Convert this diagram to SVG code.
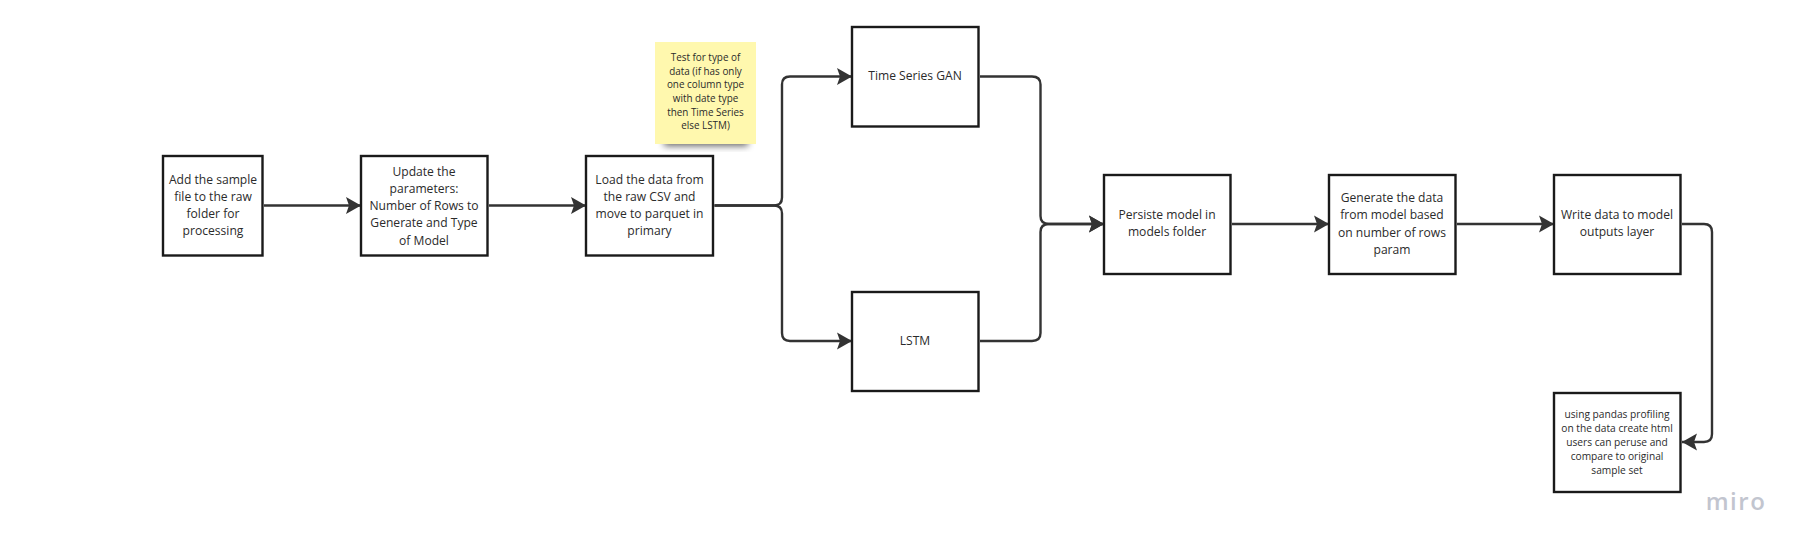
<svg xmlns="http://www.w3.org/2000/svg" width="1807" height="553" viewBox="0 0 1807 553">
<style>
.box{fill:#fff;stroke:#1a1a1a;stroke-width:2.4}
.c{fill:none;stroke:#333;stroke-width:2.4;stroke-linejoin:round}
text{font-family:"Open Sans","Noto Sans","Liberation Sans",sans-serif;text-anchor:middle;fill:#2b2b2b}
.t{font-size:12.1px}
.n{font-size:9.9px}
.s{font-size:10.2px}
</style>
<defs>
<marker id="a" markerUnits="userSpaceOnUse" markerWidth="18" markerHeight="20" refX="15.500" refY="9.500" orient="auto">
<path d="M0.500 1L15.500 9.500L0.500 18L3.500 9.500Z" fill="#333"/>
</marker>
<filter id="blur" x="-20%" y="-50%" width="140%" height="200%"><feGaussianBlur stdDeviation="3.500"/></filter>
</defs>
<rect width="1807" height="553" fill="#fff"/>
<g id="connectors">
<path class="c" marker-end="url(#a)" d="M264 205.500H361"/>
<path class="c" marker-end="url(#a)" d="M489 205.500H586"/>
<path class="c" marker-end="url(#a)" d="M714.500 205.500H774Q782 205.500 782 197.500V84.500Q782 76.500 790 76.500H852"/>
<path class="c" marker-end="url(#a)" d="M714.500 205.500H774Q782 205.500 782 213.500V333Q782 341 790 341H852"/>
<path class="c" marker-end="url(#a)" d="M980 76.500H1032Q1040.500 76.500 1040.500 84.500V216Q1040.500 224 1049 224H1104"/>
<path class="c" marker-end="url(#a)" d="M980 341H1032Q1040.500 341 1040.500 333V232Q1040.500 224 1049 224H1104"/>
<path class="c" marker-end="url(#a)" d="M1232 224H1329"/>
<path class="c" marker-end="url(#a)" d="M1457 224H1554"/>
<path class="c" marker-end="url(#a)" d="M1682 224H1704Q1712 224 1712 232V434Q1712 442 1704 442H1682"/>
</g>
<g id="n-sample"><rect class="box" x="163" y="156" width="99.500" height="99.500"/>
<text class="t" x="213" y="183.500">Add the sample</text><text class="t" x="213" y="200.800">file to the raw</text><text class="t" x="213" y="218.100">folder for</text><text class="t" x="213" y="235.400">processing</text></g>
<g id="n-params"><rect class="box" x="361" y="156" width="126.500" height="99.500"/>
<text class="t" x="424" y="175.500">Update the</text><text class="t" x="424" y="192.800">parameters:</text><text class="t" x="424" y="210.100">Number of Rows to</text><text class="t" x="424" y="227.400">Generate and Type</text><text class="t" x="424" y="244.700">of Model</text></g>
<g id="n-load"><rect class="box" x="586" y="156" width="127" height="99.500"/>
<text class="t" x="649.500" y="183.500">Load the data from</text><text class="t" x="649.500" y="200.800">the raw CSV and</text><text class="t" x="649.500" y="218.100">move to parquet in</text><text class="t" x="649.500" y="235.400">primary</text></g>
<g id="n-note">
<rect x="664" y="134" width="84" height="12" fill="#000" opacity=".6" filter="url(#blur)"/>
<rect x="655" y="42" width="101" height="102" fill="#fff8ae"/>
<text class="n" x="705.500" y="61">Test for type of</text><text class="n" x="705.500" y="74.700">data (if has only</text><text class="n" x="705.500" y="88.400">one column type</text><text class="n" x="705.500" y="101.800">with date type</text><text class="n" x="705.500" y="115.500">then Time Series</text><text class="n" x="705.500" y="128.800">else LSTM)</text></g>
<g id="n-gan"><rect class="box" x="852" y="27" width="126.500" height="99.500"/><text class="t" x="915" y="80">Time Series GAN</text></g>
<g id="n-lstm"><rect class="box" x="852" y="292" width="126.500" height="99"/><text class="t" x="915" y="345">LSTM</text></g>
<g id="n-persist"><rect class="box" x="1104" y="175" width="126.500" height="99"/>
<text class="t" x="1167" y="219">Persiste model in</text><text class="t" x="1167" y="236.300">models folder</text></g>
<g id="n-generate"><rect class="box" x="1329" y="175" width="126.500" height="99"/>
<text class="t" x="1392" y="202">Generate the data</text><text class="t" x="1392" y="219.300">from model based</text><text class="t" x="1392" y="236.600">on number of rows</text><text class="t" x="1392" y="253.900">param</text></g>
<g id="n-write"><rect class="box" x="1554" y="175" width="126.500" height="99"/>
<text class="t" x="1617" y="219">Write data to model</text><text class="t" x="1617" y="236.300">outputs layer</text></g>
<g id="n-profile"><rect class="box" x="1554" y="393" width="126.500" height="99"/>
<text class="s" x="1617" y="417.500">using pandas profiling</text><text class="s" x="1617" y="431.500">on the data create html</text><text class="s" x="1617" y="445.500">users can peruse and</text><text class="s" x="1617" y="459.500">compare to original</text><text class="s" x="1617" y="473.500">sample set</text></g>
<text x="1736" y="510" style="font-size:24px;font-weight:600;fill:#c2c5cf;letter-spacing:1.500px">miro</text>
</svg>
